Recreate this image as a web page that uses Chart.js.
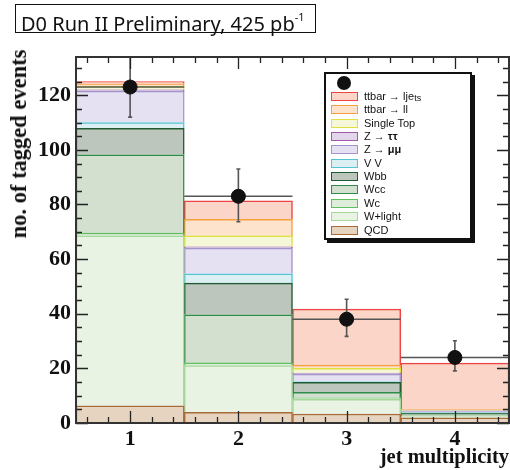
<!DOCTYPE html>
<html>
<head>
<meta charset="utf-8">
<script src="https://cdn.jsdelivr.net/npm/chart.js@4.4.1/dist/chart.umd.min.js"></script>
<style>
  body { margin: 0; background: #fff; }
  #wrap { position: relative; width: 510px; height: 470px; }
  #titleBox {
    position: absolute; left: 15px; top: 4px; width: 294px; height: 27px;
    border: 1.5px solid #111; font-family: "Noto Sans", sans-serif; font-size: 20px;
    line-height: 27px; padding-left: 5px; color: #111; white-space: nowrap;
  }
  #titleBox sup { font-size: 11px; position: relative; top: -2px; }
  #yTitle {
    position: absolute; left: 19px; top: 144px; transform: translate(-50%, -50%) rotate(-90deg);
    font-family: "Liberation Serif", serif; font-weight: bold; font-size: 22.5px; white-space: nowrap; color: #111;
  }
  #legend {
    position: absolute; left: 324px; top: 72px; width: 144px; height: 164px;
    border: 2px solid #111; background: #fff; box-shadow: 3px 3px 0 #111;
    font-family: "Liberation Sans", Arial, sans-serif; font-size: 11px; color: #111;
  }
  #legend .row { position: absolute; left: 5px; height: 10px; white-space: nowrap; }
  #legend .sw { position: absolute; left: 0; top: 0; width: 25px; height: 7px; border: 1.5px solid; }
  #legend .lab { position: absolute; left: 33px; top: -3px; line-height: 14px; }
  #legend .dot { position: absolute; left: 11px; top: 2px; width: 14px; height: 14px; border-radius: 50%; background: #111; }
  #legend sub { font-size: 9px; position: relative; top: 1px; vertical-align: baseline; }
</style>
</head>
<body>
<div id="wrap">
  <canvas id="myChart" width="510" height="470"></canvas>
  <div id="titleBox">D0 Run II Preliminary, 425 pb<sup>-1</sup></div>
  <div id="yTitle">no. of tagged events</div>
  <div id="legend"><div class="dot"></div></div>
</div>
<script>
// jet multiplicity bins
const jetBins = [1, 2, 3, 4];

// expected events per bin, one array per sample (bottom of stack first)
const qcd       = [6.3, 3.9, 3.3, 1.9];
const wLight    = [62.2, 17.1, 5.4, 0.4];
const wc        = [1.0, 1.0, 0.5, 0.3];
const wcc       = [28.7, 17.6, 2.0, 0.4];
const wbb       = [9.7, 11.6, 3.7, 0.6];
const diboson   = [2.1, 3.4, 0.3, 0.2];
const zMuMu     = [11.5, 9.4, 2.7, 0.5];
const zTauTau   = [0.5, 0.5, 0.4, 0.2];
const singleTop = [1.3, 4.0, 1.7, 0.2];
const ttbarLL   = [0.9, 6.1, 1.2, 0.3];
const ttbarLJ   = [0.8, 6.7, 20.5, 16.9];

// observed data
const dataCounts = [123, 83, 38, 24];
const errLow     = [11, 9.3, 6.3, 4.9];
const errHigh    = [11.5, 10, 7.3, 6.1];

const yTickValues = [0, 20, 40, 60, 80, 100, 120];
const yMax = 134;

const sampleValues = [qcd, wLight, wc, wcc, wbb, diboson, zMuMu, zTauTau, singleTop, ttbarLL, ttbarLJ];
const sampleLabels = ['QCD', 'W+light', 'Wc', 'Wcc', 'Wbb', 'V V', 'Z → <b>μμ</b>', 'Z → <b>ττ</b>',
  'Single Top', 'ttbar → ll', 'ttbar → lje<sub>ts</sub>'];
const fillColors = ['#e6d4c0', '#e9f3e4', '#dfeedb', '#d3dfcf', '#bcc6bc', '#dcf0f4', '#e5e1f2', '#e3d5ea',
  '#f5f7d9', '#fde3cb', '#fcd5c9'];
const lineColors = ['#a86a38', '#a5d79a', '#60c060', '#2e8b4a', '#1f5a30', '#55c5d5', '#a594cc', '#9c5aa8',
  '#e0e040', '#f7a040', '#ee4444'];

// build floating bars from the running sum
const running = jetBins.map(() => 0);
const barSets = sampleValues.map((vals, k) => {
  const pts = jetBins.map((b, i) => {
    const lo = running[i];
    running[i] += vals[i];
    return { x: b, y: [lo, running[i]] };
  });
  return {
    type: 'bar',
    data: pts,
    backgroundColor: fillColors[k],
    borderColor: lineColors[k],
    borderWidth: 1.5,
    borderSkipped: 'start',
    grouped: false,
    barPercentage: 1,
    categoryPercentage: 1,
    order: 1
  };
});

// legend, top of the stack first
const legendEl = document.getElementById('legend');
for (let k = sampleLabels.length - 1; k >= 0; k--) {
  const row = document.createElement('div');
  row.className = 'row';
  row.style.top = (18 + (sampleLabels.length - 1 - k) * 13.35) + 'px';
  row.innerHTML = `<div class="sw" style="background:${fillColors[k]};border-color:${lineColors[k]}"></div>
    <div class="lab">${sampleLabels[k]}</div>`;
  legendEl.appendChild(row);
}

// error bars, bin width bars, frame and ticks
const hepStyle = {
  id: 'hepStyle',
  beforeDatasetDraw(chart, args) {
    if (args.index !== 0) return;
    const { ctx, chartArea: a, scales: { x, y } } = chart;
    ctx.save();
    ctx.beginPath();
    ctx.rect(a.left, a.top, a.right - a.left, a.bottom - a.top);
    ctx.clip();
    ctx.strokeStyle = '#555';
    ctx.lineWidth = 1.6;
    jetBins.forEach((b, i) => {
      const px = x.getPixelForValue(b);
      const py = y.getPixelForValue(dataCounts[i]);
      const pl = x.getPixelForValue(b - 0.5);
      const pr = x.getPixelForValue(b + 0.5);
      const top = y.getPixelForValue(dataCounts[i] + errHigh[i]);
      const bot = y.getPixelForValue(dataCounts[i] - errLow[i]);
      ctx.beginPath();
      ctx.moveTo(pl, py); ctx.lineTo(pr, py);
      ctx.moveTo(px, top); ctx.lineTo(px, bot);
      ctx.moveTo(px - 2, top); ctx.lineTo(px + 2, top);
      ctx.moveTo(px - 2, bot); ctx.lineTo(px + 2, bot);
      ctx.stroke();
    });
    ctx.restore();
  },
  afterDatasetsDraw(chart) {
    const { ctx, chartArea: a, scales: { x, y } } = chart;
    ctx.save();
    ctx.strokeStyle = '#222';
    ctx.lineWidth = 1.3;
    ctx.beginPath();
    for (let v = 0; v <= yMax; v += 5) {
      const py = Math.round(y.getPixelForValue(v)) + 0.5;
      const len = v % 20 === 0 ? 12 : 6;
      ctx.moveTo(a.left, py); ctx.lineTo(a.left + len, py);
      ctx.moveTo(a.right, py); ctx.lineTo(a.right - len, py);
    }
    for (let i = 3; i <= 22; i++) {
      const px = Math.round(x.getPixelForValue(i * 0.2)) + 0.5;
      const len = i % 5 === 0 ? 12 : 6;
      ctx.moveTo(px, a.bottom); ctx.lineTo(px, a.bottom - len);
      ctx.moveTo(px, a.top); ctx.lineTo(px, a.top + len);
    }
    ctx.stroke();
    ctx.lineWidth = 2;
    ctx.strokeStyle = '#333';
    ctx.strokeRect(a.left, a.top, a.right - a.left, a.bottom - a.top);
    ctx.restore();
  }
};

const ctx = document.getElementById('myChart').getContext('2d');
const myChart = new Chart(ctx, {
  type: 'bar',
  data: {
    datasets: [{
      type: 'scatter',
      data: jetBins.map((b, i) => ({ x: b, y: dataCounts[i] })),
      pointRadius: 7,
      pointBackgroundColor: '#111',
      pointBorderColor: '#111',
      pointBorderWidth: 1,
      order: 0
    }].concat(barSets)
  },
  options: {
    responsive: false,
    animation: false,
    layout: { autoPadding: false, padding: { top: 57, right: 1, left: 0, bottom: 0 } },
    plugins: { legend: { display: false }, tooltip: { enabled: false } },
    scales: {
      x: {
        type: 'linear',
        min: 0.5,
        max: 4.5,
        offset: false,
        afterBuildTicks: (s) => { s.ticks = jetBins.map(v => ({ value: v })); },
        afterFit: (s) => { s.height = 47; },
        grid: { display: false, drawTicks: false },
        border: { display: false },
        ticks: {
          padding: 3,
          color: '#111',
          font: { family: 'Liberation Serif', weight: 'bold', size: 22 }
        },
        title: {
          display: true,
          text: 'jet multiplicity',
          align: 'end',
          color: '#111',
          padding: 0,
          font: { family: 'Liberation Serif', weight: 'bold', size: 20.5 }
        }
      },
      y: {
        min: 0,
        max: yMax,
        afterBuildTicks: (s) => { s.ticks = yTickValues.map(v => ({ value: v })); },
        afterFit: (s) => { s.width = 76; },
        grid: { display: false, drawTicks: false },
        border: { display: false },
        ticks: {
          padding: 5,
          color: '#111',
          font: { family: 'Liberation Serif', weight: 'bold', size: 22 }
        }
      }
    }
  },
  plugins: [hepStyle]
});
</script>
</body>
</html>
